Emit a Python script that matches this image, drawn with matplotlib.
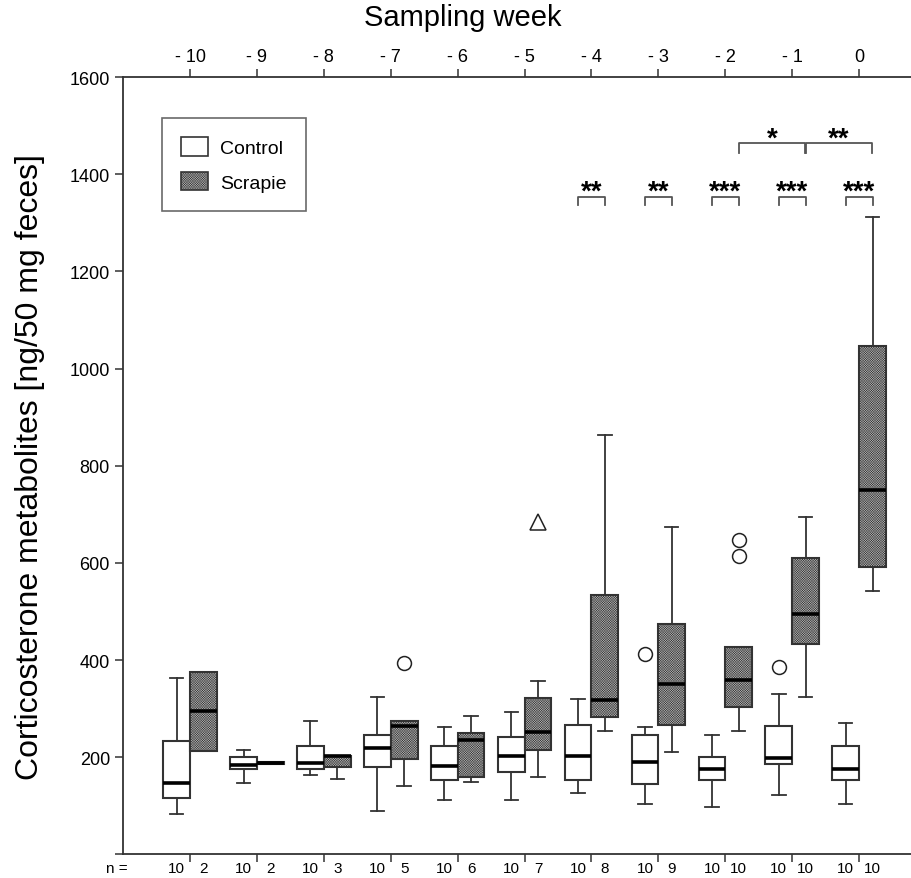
import matplotlib.pyplot as plt
from matplotlib.patches import Patch

plt.rcParams['font.family'] = ['Liberation Sans', 'DejaVu Sans']
plt.rcParams['hatch.linewidth'] = 0.3
plt.rcParams['hatch.color'] = '#8c8c8c'

weeks = [-10, -9, -8, -7, -6, -5, -4, -3, -2, -1, 0]
week_labels = ['- 10', '- 9', '- 8', '- 7', '- 6', '- 5', '- 4', '- 3', '- 2', '- 1', '0']

# control group (box stats)
ctrl_whislo = [83, 146, 163, 90, 112, 112, 127, 104, 97, 123, 104]
ctrl_q1 = [115, 175, 175, 179, 152, 170, 152, 145, 152, 185, 152]
ctrl_med = [146, 183, 187, 218, 181, 202, 203, 189, 175, 198, 175]
ctrl_q3 = [233, 200, 222, 245, 222, 242, 267, 245, 200, 264, 222]
ctrl_whishi = [363, 215, 275, 323, 263, 293, 319, 263, 245, 330, 270]
ctrl_out = [[], [], [], [], [], [], [], [412], [], [385], []]
ctrl_n = [10] * 11

# scrapie group
scr_whislo = [212, 185, 155, 141, 148, 160, 253, 211, 253, 323, 543]
scr_q1 = [212, 185, 179, 197, 160, 215, 282, 267, 304, 433, 592]
scr_med = [295, 187, 202, 264, 236, 251, 317, 350, 358, 494, 750]
scr_q3 = [376, 190, 202, 275, 249, 321, 533, 474, 426, 611, 1046]
scr_whishi = [376, 190, 202, 275, 285, 356, 863, 673, 426, 695, 1313]
scr_out = [[], [], [], [393], [], [], [], [], [648, 615], [], []]
scr_n = [2, 2, 3, 5, 6, 7, 8, 9, 10, 10, 10]
scr_extreme_week = -5
scr_extreme_val = 684

# significance marks
sig_weeks = [-4, -3, -2, -1, 0]
sig_labels = ['**', '**', '***', '***', '***']
sig_y = 1354
upper_pairs = [(-2, -1, '*'), (-1, 0, '**')]
upper_y = 1465

off = 0.2
bw = 0.4
scr_face = '#b4b4b4'
scr_hatch = 'x' * 14

def stats(lo, q1, med, q3, hi, out):
    return [dict(whislo=a, q1=b, med=c, q3=d, whishi=e, fliers=f)
            for a, b, c, d, e, f in zip(lo, q1, med, q3, hi, out)]

fig = plt.figure(figsize=(9.12, 8.79), dpi=100)
ax = fig.add_axes([0.135, 0.027, 0.865, 0.884])

common = dict(widths=bw, patch_artist=True, capwidths=bw / 2, manage_ticks=False,
              whiskerprops=dict(color='#333333', lw=1.3),
              capprops=dict(color='#333333', lw=1.3),
              medianprops=dict(color='black', lw=2.6),
              flierprops=dict(marker='o', markerfacecolor='white', markeredgecolor='#222222',
                              markersize=10, markeredgewidth=1.1))

b1 = ax.bxp(stats(ctrl_whislo, ctrl_q1, ctrl_med, ctrl_q3, ctrl_whishi, ctrl_out),
            positions=[w - off for w in weeks], **common)
for p in b1['boxes']:
    p.set_facecolor('white')
    p.set_edgecolor('#333333')
    p.set_linewidth(1.5)

b2 = ax.bxp(stats(scr_whislo, scr_q1, scr_med, scr_q3, scr_whishi, scr_out),
            positions=[w + off for w in weeks], **common)
for p in b2['boxes']:
    p.set_facecolor(scr_face)
    p.set_hatch(scr_hatch)
    p.set_edgecolor('#333333')
    p.set_linewidth(1.5)

ax.plot([scr_extreme_week + off], [scr_extreme_val], marker='^', ls='none',
        markerfacecolor='white', markeredgecolor='#222222', markersize=11, markeredgewidth=1.1)

# significance brackets
for w, lab in zip(sig_weeks, sig_labels):
    ax.plot([w - off, w - off, w + off, w + off], [sig_y - 18, sig_y, sig_y, sig_y - 18],
            color='#555555', lw=1.3)
    ax.text(w, sig_y - 4, lab, ha='center', va='baseline', fontsize=20, fontweight='bold')
for a, b, lab in upper_pairs:
    xa, xb = a + off + 0.01, b + off - 0.01
    ax.plot([xa, xa, xb, xb], [upper_y - 20, upper_y, upper_y, upper_y - 20],
            color='#555555', lw=1.3)
    ax.text((xa + xb) / 2, upper_y - 6, lab, ha='center', va='baseline', fontsize=20, fontweight='bold')

ax.set_xlim(-11, 0.79)
ax.set_ylim(0, 1600)
ax.set_yticks(range(0, 1601, 200))
ax.set_yticklabels([''] + [str(v) for v in range(200, 1601, 200)])
ax.set_xticks(weeks)
ax.set_xticklabels(week_labels)
ax.xaxis.tick_top()
ax.set_ylabel('Corticosterone metabolites [ng/50 mg feces]', fontsize=23, labelpad=18)
ax.tick_params(axis='both', direction='out', length=6, width=1.1, color='#333333', labelsize=13)
ax.tick_params(axis='x', bottom=True, labelbottom=False, pad=3)
ax.spines['right'].set_visible(False)
for s in ['left', 'top', 'bottom']:
    ax.spines[s].set_color('#333333')
    ax.spines[s].set_linewidth(1.3)

fig.text(0.507, 0.979, 'Sampling week', ha='center', va='center', fontsize=21)

# n counts below the axis
ax.text(-11.1, -28, 'n =', ha='center', va='center', fontsize=11)
for w, nc, ns in zip(weeks, ctrl_n, scr_n):
    ax.text(w - off, -28, str(nc), ha='center', va='center', fontsize=11)
    ax.text(w + off, -28, str(ns), ha='center', va='center', fontsize=11)

handles = [Patch(facecolor='white', edgecolor='#333333', lw=1.2, label='Control'),
           Patch(facecolor=scr_face, edgecolor='#333333', hatch=scr_hatch, lw=1.2, label='Scrapie')]
leg = ax.legend(handles=handles, loc='upper left', bbox_to_anchor=(0.049, 0.948),
                borderaxespad=0, fancybox=False, edgecolor='#444444', fontsize=14,
                handlelength=1.4, handleheight=1.1, borderpad=1.0, labelspacing=0.75,
                handletextpad=0.6)
leg.get_frame().set_linewidth(1.2)

fig.savefig('out.png', dpi=100)
